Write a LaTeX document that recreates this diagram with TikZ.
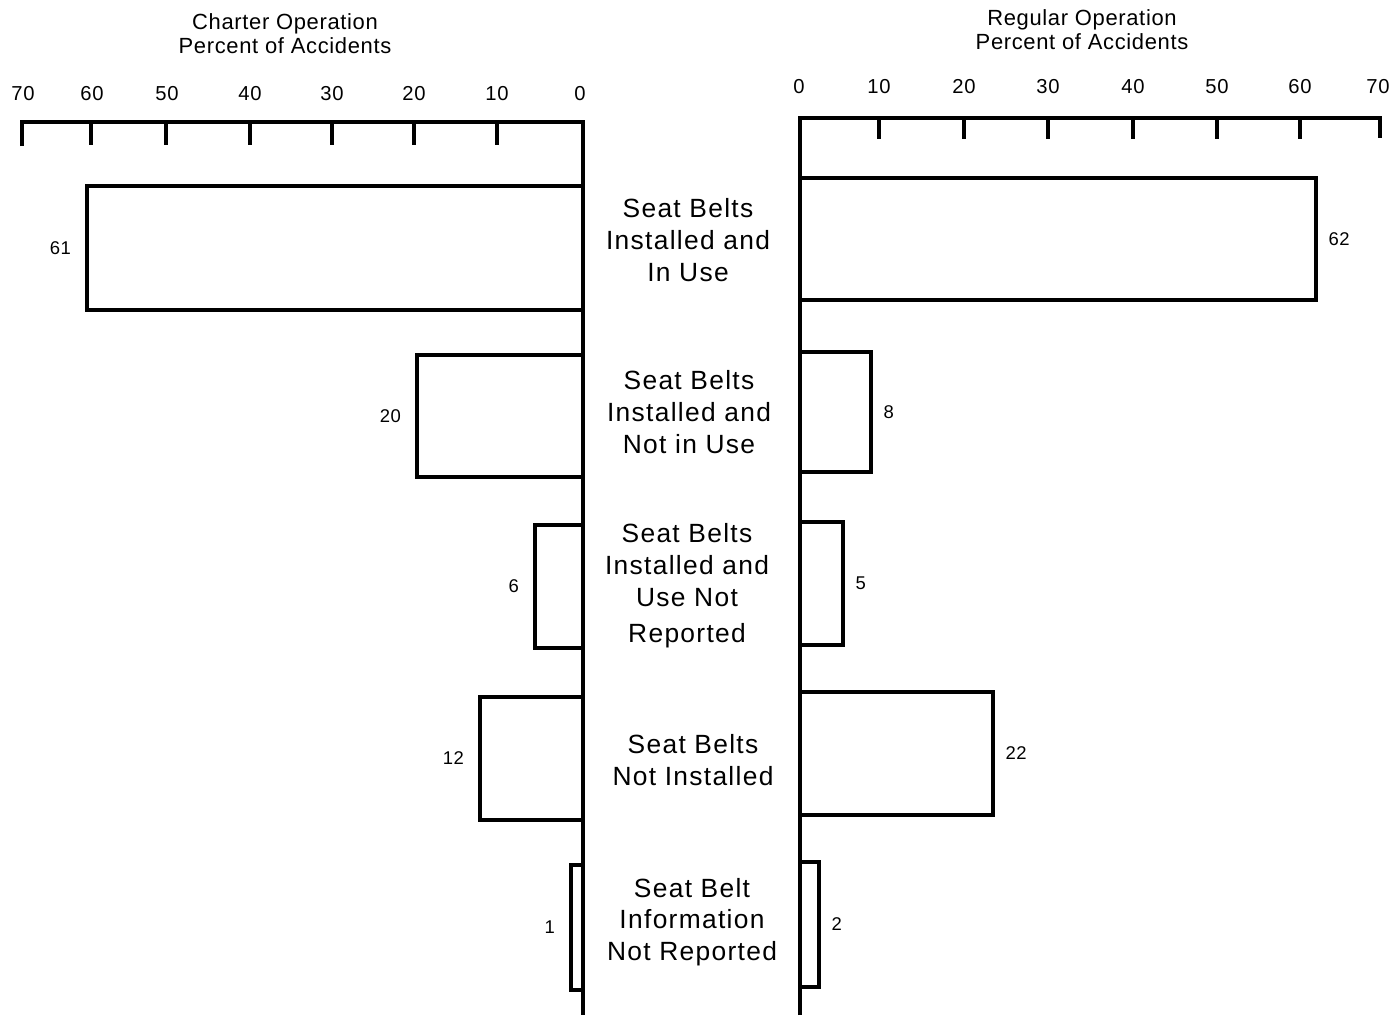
\documentclass[tikz,border=0pt]{standalone}
\usepackage{fontspec}
\setmainfont{Liberation Sans}
\newfontfamily\chartfont[LetterSpace=3]{Liberation Sans}
\newfontfamily\catfont[LetterSpace=5]{Liberation Sans}
\usetikzlibrary{positioning}
\tikzset{
  chartline/.style={black, line width=1.8pt},
  titlelbl/.style={align=center, font=\chartfont\fontsize{12.5}{13.6}\selectfont},
  ticklbl/.style={font=\chartfont\fontsize{11.5}{13}\selectfont},
  vallbl/.style={inner sep=0pt, font=\chartfont\fontsize{10.5}{12}\selectfont},
  catlbl/.style={align=center, font=\catfont\fontsize{15}{18.1}\selectfont},
}
\newcommand{\axL}{583}
\newcommand{\axR}{800}
\newcommand{\barL}[5]{% name, x-end, y-top, y-bottom, value  (charter, grows left)
  \draw[chartline] (\axL,#3) -- (#2,#3) -- (#2,#4) -- (\axL,#4);
  \node[vallbl, left=9pt] (#1) at (#2,{(#3+#4)/2}) {#5};
}
\newcommand{\barR}[5]{% name, x-end, y-top, y-bottom, value  (regular, grows right)
  \draw[chartline] (\axR,#3) -- (#2,#3) -- (#2,#4) -- (\axR,#4);
  \node[vallbl, right=7pt] (#1) at (#2,{(#3+#4)/2}) {#5};
}

\begin{document}
\begin{tikzpicture}[x=0.02cm, y=-0.02cm]
  \useasboundingbox (0,0) rectangle (1390,1015);

  % titles
  \node[titlelbl] (tchart) at (285,34) {Charter Operation\\Percent of Accidents};
  \node[titlelbl] (treg) at (1082,30) {Regular Operation\\Percent of Accidents};

  % charter axis (reads right to left)
  \draw[chartline] (22,146) -- (22,122) -- (\axL,122) -- (\axL,1015);
  \foreach \v/\x in {60/91,50/166,40/250,30/332,20/414,10/497} {
    \draw[chartline] (\x,122) -- (\x,145);
  }
  \foreach \v/\x in {70/23,60/92,50/167,40/250,30/332,20/414,10/497,0/580} {
    \node[ticklbl] (cl\v) at (\x,94) {\v};
  }

  % regular axis
  \draw[chartline] (\axR,1015) -- (\axR,118) -- (1380,118) -- (1380,138);
  \foreach \v/\x in {10/879,20/964,30/1048,40/1133,50/1217,60/1300} {
    \draw[chartline] (\x,118) -- (\x,139);
  }
  \foreach \v/\x in {0/799,10/879,20/964,30/1048,40/1133,50/1217,60/1300,70/1378} {
    \node[ticklbl] (rl\v) at (\x,87) {\v};
  }

  % charter bars
  \barL{cinuse}{87}{186}{310}{61}
  \barL{cnotuse}{417}{355}{477}{20}
  \barL{cuseunk}{535}{525}{648}{6}
  \barL{cnone}{480}{697}{820}{12}
  \barL{cinfounk}{571}{865}{990}{1}

  % regular bars
  \barR{rinuse}{1316}{178}{300}{62}
  \barR{rnotuse}{871}{352}{472}{8}
  \barR{ruseunk}{843}{522}{645}{5}
  \barR{rnone}{993}{692}{815}{22}
  \barR{rinfounk}{819}{862}{987}{2}

  % category labels
  \node[catlbl] (kinuse) at (688,240) {Seat Belts\\Installed and\\In Use};
  \node[catlbl] (knotuse) at (689,412) {Seat Belts\\Installed and\\Not in Use};
  \node[catlbl] (kuseunk) at (687,586) {Seat Belts\\Installed and\\Use Not\\[2.8pt]Reported};
  \node[catlbl] (knone) at (693,760) {Seat Belts\\Not Installed};
  \node[catlbl] (kinfounk) at (692,922) {Seat Belt\\Information\\Not Reported};
\end{tikzpicture}
\end{document}
